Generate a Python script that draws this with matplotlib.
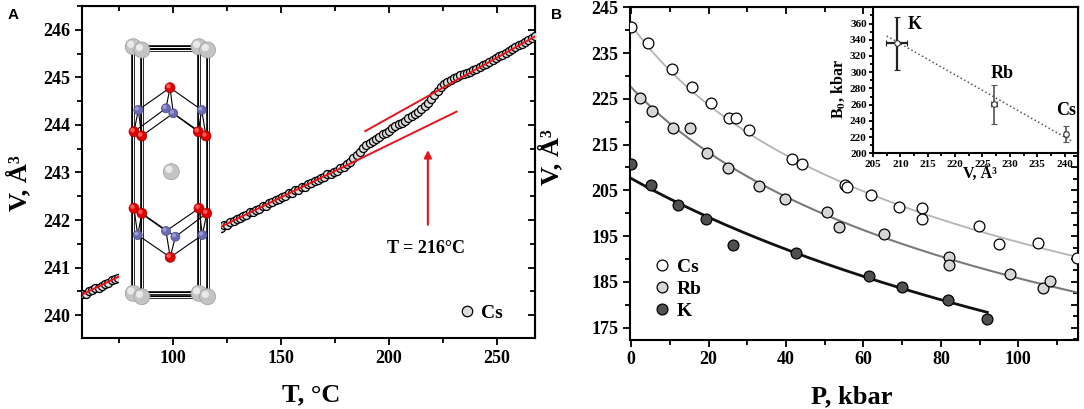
import matplotlib
matplotlib.use("Agg")
import matplotlib.pyplot as plt
import numpy as np
from matplotlib.patches import Circle
from matplotlib.ticker import MultipleLocator, FixedLocator

plt.rcParams["font.family"] = ["Liberation Serif", "DejaVu Serif"]
plt.rcParams["font.weight"] = "bold"
plt.rcParams["mathtext.fontset"] = "stix"

# ---------------- panel A data: V(T) of the Cs compound ----------------
temp_a1 = [58.0, 59.5, 61.0, 62.5, 64.0, 65.5, 67.0, 68.5, 70.0, 71.5, 73.0, 74.5]
vol_a1 = [240.44, 240.45, 240.50, 240.52, 240.57, 240.58, 240.62, 240.66, 240.68,
          240.74, 240.75, 240.79]

temp_a2 = [122.0, 123.5, 125.0, 126.5, 128.0, 129.5, 131.0, 132.5, 134.0, 135.5,
           137.0, 138.5, 140.0, 141.5, 143.0, 144.5, 146.0, 147.5, 149.0, 150.5,
           152.0, 153.5, 155.0, 156.5, 158.0, 159.5, 161.0, 162.5, 164.0, 165.5,
           167.0, 168.5, 170.0, 171.5, 173.0, 174.5, 176.0, 177.5, 179.0, 180.5,
           182.0, 183.5, 185.0, 186.5, 188.0, 189.5, 191.0, 192.5, 194.0, 195.5,
           197.0, 198.5, 200.0, 201.5, 203.0, 204.5, 206.0, 207.5, 209.0, 210.5,
           212.0, 213.5, 215.0, 216.5, 218.0, 219.5, 221.0, 222.5, 224.0, 225.5,
           227.0, 228.5, 230.0, 231.5, 233.0, 234.5, 236.0, 237.5, 239.0, 240.5,
           242.0, 243.5, 245.0, 246.5, 248.0, 249.5, 251.0, 252.5, 254.0, 255.5,
           257.0, 258.5, 260.0, 261.5, 263.0, 264.5, 266.0, 267.5]
vol_a2 = [241.84, 241.89, 241.90, 241.96, 241.97, 242.03, 242.04, 242.09, 242.10, 242.16,
          242.17, 242.22, 242.24, 242.29, 242.30, 242.36, 242.37, 242.42, 242.44, 242.49,
          242.50, 242.56, 242.57, 242.63, 242.64, 242.69, 242.70, 242.76, 242.77, 242.82,
          242.84, 242.89, 242.90, 242.96, 242.97, 243.02, 243.04, 243.09, 243.12, 243.17,
          243.23, 243.30, 243.37, 243.44, 243.51, 243.57, 243.62, 243.67, 243.71, 243.75,
          243.80, 243.84, 243.88, 243.93, 243.97, 244.01, 244.05, 244.09, 244.14, 244.18,
          244.23, 244.28, 244.34, 244.40, 244.47, 244.55, 244.63, 244.71, 244.79, 244.86,
          244.91, 244.95, 244.98, 245.01, 245.04, 245.06, 245.09, 245.12, 245.15, 245.18,
          245.21, 245.25, 245.28, 245.33, 245.36, 245.40, 245.44, 245.47, 245.52, 245.55,
          245.60, 245.63, 245.67, 245.71, 245.74, 245.79, 245.82, 245.86]

# linear fits (red lines) below and above the transition
fit_lo_T = [57.7, 231.3]
fit_lo_V = [240.43, 244.28]
fit_hi_T = [189.0, 267.6]
fit_hi_V = [243.87, 245.86]
arrow_T = 218.0
arrow_V = [241.9, 243.47]

# ---------------- panel B data: V(P) for Cs, Rb, K ----------------
p_cs = [0.0, 4.3, 10.5, 15.6, 20.5, 25.3, 27.1, 30.5, 41.6, 44.1, 55.3, 55.8,
        62.0, 69.1, 75.2, 75.2, 89.9, 94.9, 105.1, 115.1]
v_cs = [240.62, 237.13, 231.45, 227.66, 224.02, 220.74, 220.74, 218.19, 211.86, 210.70,
        206.18, 205.80, 204.00, 201.44, 201.22, 198.75, 197.22, 193.22, 193.44, 190.16]
p_rb = [2.3, 5.3, 10.7, 15.2, 19.6, 25.1, 33.1, 39.7, 50.6, 53.7, 65.3, 82.1, 82.1,
        97.9, 106.3, 108.2]
v_rb = [225.12, 222.34, 218.56, 218.56, 213.10, 209.95, 205.96, 203.12, 200.21, 196.93,
        195.40, 190.51, 188.70, 186.67, 183.61, 185.27]
p_k = [0.0, 5.0, 12.0, 19.3, 26.3, 42.7, 61.5, 70.0, 81.9, 91.9]
v_k = [210.70, 206.11, 201.81, 198.75, 193.07, 191.25, 186.36, 183.96, 181.05, 176.83]

# Murnaghan EOS fit parameters (Cs, Rb, K)
eos_V0 = [241.13, 227.52, 207.6]
eos_B0 = [206.0, 253.0, 440.0]
eos_Bp = [6.5, 6.0, 4.0]
eos_Pmax = [115.5, 115.5, 92.0]

# inset: bulk modulus vs volume
inset_V = [209.3, 227.1, 240.2]
inset_B = [335.4, 260.3, 223.4]
inset_Verr = [1.9, 0.5, 0.4]
inset_Berr = [32.5, 24.0, 10.0]
inset_names = ["K", "Rb", "Cs"]
inset_fit_V = [207.5, 241.5]
inset_fit_B = [344.7, 214.3]

W, H = 1084, 409
fig = plt.figure(figsize=(W / 100, H / 100), dpi=100)


def box(x0, y0, x1, y1):
    return [x0 / W, 1 - y1 / H, (x1 - x0) / W, (y1 - y0) / H]


def fpos(x, y):
    return x / W, 1 - y / H


def style_axes(ax, size=13):
    for s in ax.spines.values():
        s.set_linewidth(1.5)
    ax.tick_params(which="both", direction="out", width=1.3, labelsize=size)
    ax.tick_params(which="major", length=5)
    ax.tick_params(which="minor", length=3.5)


def inner_ticks(ax, xmaj, xmin, ymaj, ymin):
    top = ax.secondary_xaxis("top")
    top.xaxis.set_major_locator(xmaj)
    top.xaxis.set_minor_locator(xmin)
    top.tick_params(which="both", direction="in", width=1.3, labeltop=False)
    top.tick_params(which="major", length=5)
    top.tick_params(which="minor", length=3.5)
    right = ax.secondary_yaxis("right")
    right.yaxis.set_major_locator(ymaj)
    right.yaxis.set_minor_locator(ymin)
    right.tick_params(which="both", direction="in", width=1.3, labelright=False)
    right.tick_params(which="major", length=5)
    right.tick_params(which="minor", length=3.5)


# ======================= panel A =======================
ax_a = fig.add_axes(box(81.7, 6, 535, 338))
mk = dict(ls="none", marker="o", ms=5.8, mfc="#dcdcdc", mec="black", mew=0.9)
ax_a.plot(temp_a1, vol_a1, zorder=3, **mk)
ax_a.plot(temp_a2, vol_a2, zorder=3, label="Cs", **mk)
ax_a.plot(fit_lo_T, fit_lo_V, color="#e8141b", lw=1.4, zorder=4)
ax_a.plot(fit_hi_T, fit_hi_V, color="#e8141b", lw=1.4, zorder=4)
ax_a.annotate("", xy=(arrow_T, arrow_V[1]), xytext=(arrow_T, arrow_V[0]),
              arrowprops=dict(arrowstyle="-|>", color="#e8141b", lw=1.5,
                              mutation_scale=11, shrinkA=0, shrinkB=0))
ax_a.text(216.9, 241.4, "T = 216°C", fontsize=13, fontweight="bold",
          ha="center", va="center")
ax_a.set_xlim(57.7, 267.6)
ax_a.set_ylim(239.52, 246.5)
ax_a.xaxis.set_major_locator(MultipleLocator(50))
ax_a.xaxis.set_minor_locator(MultipleLocator(25))
ax_a.yaxis.set_major_locator(MultipleLocator(1))
ax_a.yaxis.set_minor_locator(MultipleLocator(0.5))
style_axes(ax_a)
inner_ticks(ax_a, MultipleLocator(50), MultipleLocator(25),
            MultipleLocator(1), MultipleLocator(0.5))
hl = 14 * 100 / 72
ax_a.legend(loc="center left", bbox_to_anchor=fpos(466.7 - hl / 2, 312.7),
            bbox_transform=fig.transFigure, frameon=False, fontsize=14,
            handlelength=1.0, handletextpad=0.25, borderpad=0, borderaxespad=0,
            markerscale=1.3)

# crystal structure picture (white box covering the middle of the data)
ax_s = fig.add_axes(box(118.5, 28, 221, 314), zorder=5)
ax_s.set_xlim(118.5, 221)
ax_s.set_ylim(314, 28)
ax_s.set_xticks([])
ax_s.set_yticks([])
for s in ax_s.spines.values():
    s.set_visible(False)
ax_s.set_facecolor("white")


def bar(p, q):
    ax_s.plot([p[0], q[0]], [p[1], q[1]], color="black", lw=2.6,
              solid_capstyle="butt", zorder=1)
    ax_s.plot([p[0], q[0]], [p[1], q[1]], color="white", lw=0.7,
              solid_capstyle="butt", zorder=1.1)


def bond(p, q):
    ax_s.plot([p[0], q[0]], [p[1], q[1]], color="black", lw=0.8, zorder=2)


def atom(p, r, base, edge, light):
    ax_s.add_patch(Circle(p, r, facecolor=base, edgecolor=edge, lw=0.5, zorder=3))
    ax_s.add_patch(Circle((p[0] - 0.3 * r, p[1] - 0.3 * r), 0.45 * r,
                          facecolor=light, edgecolor="none", alpha=0.8, zorder=3.1))


cs_top = [(133.2, 46.7), (141.9, 50.0), (199.0, 46.7), (207.6, 50.0)]
cs_bot = [(133.2, 293.3), (141.9, 296.7), (199.0, 293.3), (207.6, 296.7)]
for a, b in zip(cs_top, cs_bot):
    bar(a, b)
bar(cs_top[0], cs_top[2])
bar(cs_top[1], cs_top[3])
bar(cs_bot[0], cs_bot[2])
bar(cs_bot[1], cs_bot[3])

o_up = {"apex": (170.0, 87.7), "l1": (134.0, 131.7), "l2": (141.7, 136.0),
        "r1": (198.3, 131.7), "r2": (206.0, 136.0)}
n_up = {"l": (138.3, 110.0), "c1": (166.0, 108.3), "c2": (173.3, 113.3),
        "r": (201.7, 110.0)}
o_dn = {"apex": (170.2, 257.3), "l1": (134.0, 208.3), "l2": (141.9, 213.3),
        "r1": (199.0, 208.3), "r2": (206.7, 213.3)}
n_dn = {"l": (137.7, 235.0), "c1": (166.0, 231.0), "c2": (175.4, 236.7),
        "r": (202.4, 235.0)}
for o, n in [(o_up, n_up), (o_dn, n_dn)]:
    for k in ["l", "r", "c1", "c2"]:
        bond(o["apex"], n[k])
    bond(n["l"], o["l1"]); bond(n["l"], o["l2"])
    bond(n["r"], o["r1"]); bond(n["r"], o["r2"])
    bond(o["l1"], n["c1"]); bond(n["c1"], o["r1"])
    bond(o["l2"], n["c2"]); bond(n["c2"], o["r2"])

for p in cs_top + cs_bot + [(171.3, 171.7)]:
    atom(p, 8.0, "#c4c4c4", "#9a9a9a", "#f4f4f4")
for n in [n_up, n_dn]:
    for p in n.values():
        atom(p, 4.5, "#6a6ab0", "#4a4a8a", "#a8a8e0")
for o in [o_up, o_dn]:
    for p in o.values():
        atom(p, 5.0, "#e00000", "#a00000", "#ff7070")

# ======================= panel B =======================
ax_b = fig.add_axes(box(630, 7.3, 1078.3, 339.5))
curve_cols = ["#b4b4b4", "#7a7a7a", "#111111"]
curve_lw = [1.3, 1.5, 2.0]
for V0, B0, Bp, Pm, c, lw in zip(eos_V0, eos_B0, eos_Bp, eos_Pmax, curve_cols, curve_lw):
    P = np.linspace(0, Pm, 200)
    ax_b.plot(P, V0 * (1 + Bp * P / B0) ** (-1 / Bp), color=c, lw=lw, zorder=2)
pm = dict(ls="none", marker="o", ms=7.8, mec="black", mew=0.9, zorder=3)
ax_b.plot(p_cs, v_cs, mfc="white", label="Cs", **pm)
ax_b.plot(p_rb, v_rb, mfc="#d6d6d6", label="Rb", **pm)
ax_b.plot(p_k, v_k, mfc="#505050", label="K", **pm)
ax_b.set_xlim(-0.3, 115.5)
ax_b.set_ylim(172.4, 245)
ax_b.xaxis.set_major_locator(MultipleLocator(20))
ax_b.xaxis.set_minor_locator(MultipleLocator(10))
ax_b.yaxis.set_major_locator(FixedLocator(np.arange(175, 246, 10)))
ax_b.yaxis.set_minor_locator(FixedLocator(np.arange(180, 245, 10)))
style_axes(ax_b)
inner_ticks(ax_b, MultipleLocator(20), MultipleLocator(10),
            MultipleLocator(5), MultipleLocator(2.5))
ax_b.legend(loc="center left", bbox_to_anchor=fpos(662 - hl / 2, 289.3),
            bbox_transform=fig.transFigure, frameon=False, fontsize=14,
            handlelength=1.0, handletextpad=0.25, labelspacing=0.22,
            borderpad=0, borderaxespad=0)

# inset
ax_in = fig.add_axes(box(873, 7.3, 1078.3, 153.3), zorder=6)
ax_in.plot(inset_fit_V, inset_fit_B, color="#555555", ls=":", lw=1.1, zorder=2)
for i in range(3):
    lw = 1.6 if i == 0 else 1.2
    col = "#222222" if i == 0 else "#555555"
    ax_in.errorbar(inset_V[i], inset_B[i], xerr=inset_Verr[i], yerr=inset_Berr[i],
                   fmt="o", ms=4, mfc="white", mec="#333333", mew=0.8,
                   ecolor=col, elinewidth=lw, capsize=2.5, capthick=1, zorder=3)
label_pos = [(212.6, 359), (228.6, 298.5), (240.3, 253.3)]
for name, (x, y) in zip(inset_names, label_pos):
    ax_in.text(x, y, name, fontsize=13, fontweight="bold", ha="center", va="center")
ax_in.set_xlim(205, 242.5)
ax_in.set_ylim(200, 380)
ax_in.set_xticks(np.arange(205, 241, 5))
ax_in.set_yticks(np.arange(200, 361, 20))
ax_in.xaxis.set_minor_locator(MultipleLocator(2.5))
ax_in.yaxis.set_minor_locator(MultipleLocator(10))
style_axes(ax_in, size=8)
ax_in.tick_params(which="major", length=3, pad=1.5)
ax_in.tick_params(which="minor", length=2)
fig.text(*fpos(980, 175), "V, Å³", fontsize=11.5, fontweight="bold",
         ha="center", va="center")
fig.text(*fpos(838, 89), r"B$_{\mathbf{0}}$, kbar", fontsize=11.5, fontweight="bold",
         ha="center", va="center", rotation=90)

# axis titles and panel letters
fig.text(*fpos(310.7, 395), "T, °C", fontsize=19, fontweight="bold",
         ha="center", va="center")
fig.text(*fpos(19, 183), "V, Å³", fontsize=19, fontweight="bold",
         ha="center", va="center", rotation=90)
fig.text(*fpos(852, 397), "P, kbar", fontsize=19, fontweight="bold",
         ha="center", va="center")
fig.text(*fpos(551, 157), "V, Å³", fontsize=19, fontweight="bold",
         ha="center", va="center", rotation=90)
fig.text(*fpos(13, 15), "A", fontsize=11, fontweight="bold",
         family="Liberation Sans", ha="center", va="center")
fig.text(*fpos(556, 15), "B", fontsize=11, fontweight="bold",
         family="Liberation Sans", ha="center", va="center")

fig.savefig("out.png", dpi=100)
